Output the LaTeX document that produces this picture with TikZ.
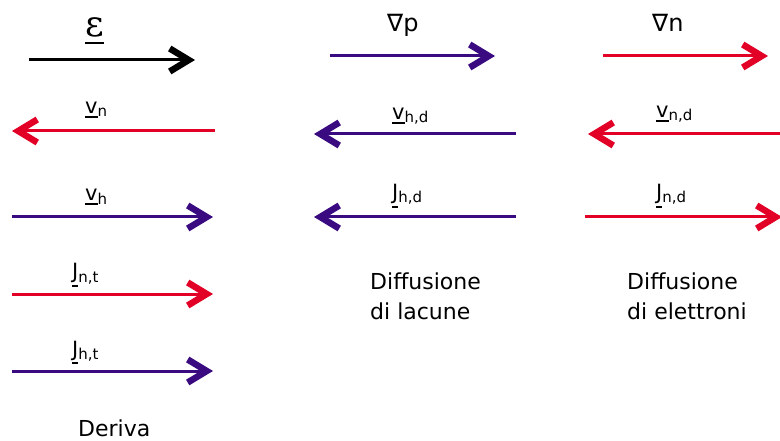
\documentclass[tikz,border=0pt]{standalone}
\usepackage{fontspec}
\setmainfont{DejaVu Sans}
\newfontfamily\serifeps{DejaVu Serif}
\usetikzlibrary{arrows.meta}
\definecolor{ared}{RGB}{226,0,38}
\definecolor{apurple}{RGB}{58,10,128}
\newcommand\ulx[2][4pt]{\setbox0\hbox{#2}\rlap{\rule[\dimexpr-\dp0-#1\relax]{\wd0}{2pt}}\box0}
\newcommand\lbl[2]{\ulx{\fontsize{21}{21}\selectfont #1}\raisebox{-3pt}{\fontsize{15}{15}\selectfont #2}}
\begin{document}
\begin{tikzpicture}[x=1pt,y=-1pt,
  arr/.style={line width=3pt,-{Straight Barb[length=19pt,width=23pt,line width=6.5pt]}},
  lab/.style={anchor=base west,inner sep=0pt},
  capt/.style={anchor=base west,inner sep=0pt,font=\fontsize{22}{22}\selectfont}]
\path[use as bounding box] (0,0) rectangle (780,441);
\clip (0,0) rectangle (780,441);
% endpoints
\coordinate (e0) at (29,60);   \coordinate (e1) at (195,60);
\coordinate (vn0) at (215,131); \coordinate (vn1) at (12,131);
\coordinate (vh0) at (12,217);  \coordinate (vh1) at (213,217);
\coordinate (jn0) at (12,294);  \coordinate (jn1) at (213,294);
\coordinate (jh0) at (12,371);  \coordinate (jh1) at (213,371);
\coordinate (gp0) at (330,56);  \coordinate (gp1) at (495,56);
\coordinate (vhd0) at (516,134); \coordinate (vhd1) at (314,134);
\coordinate (jhd0) at (516,217); \coordinate (jhd1) at (314,217);
\coordinate (gn0) at (603,56);  \coordinate (gn1) at (768,56);
\coordinate (vnd0) at (790,134); \coordinate (vnd1) at (588,134);
\coordinate (jnd0) at (585,217); \coordinate (jnd1) at (782,217);
% arrows
\draw[arr,black] (e0) -- (e1);
\draw[arr,ared] (vn0) -- (vn1);
\draw[arr,apurple] (vh0) -- (vh1);
\draw[arr,ared] (jn0) -- (jn1);
\draw[arr,apurple] (jh0) -- (jh1);
\draw[arr,apurple] (gp0) -- (gp1);
\draw[arr,apurple] (vhd0) -- (vhd1);
\draw[arr,apurple] (jhd0) -- (jhd1);
\draw[arr,ared] (gn0) -- (gn1);
\draw[arr,ared] (vnd0) -- (vnd1);
\draw[arr,ared] (jnd0) -- (jnd1);
% labels
\node[lab] (leps) at (85,37) {\ulx[6pt]{\serifeps\fontsize{36}{36}\selectfont ε}};
\node[lab] (lvn) at (85,114) {\lbl{v}{n}};
\node[lab] (lvh) at (85,201) {\lbl{v}{h}};
\node[lab] (ljnt) at (72,279) {\lbl{J}{n,t}};
\node[lab] (ljht) at (72,356) {\lbl{J}{h,t}};
\node[capt,font=\fontsize{24}{24}\selectfont] (lgp) at (387,32) {∇p};
\node[lab] (lvhd) at (392,120) {\lbl{v}{h,d}};
\node[lab] (ljhd) at (392,200) {\lbl{J}{h,d}};
\node[capt,font=\fontsize{24}{24}\selectfont] (lgn) at (652,32) {∇n};
\node[lab] (lvnd) at (656,118) {\lbl{v}{n,d}};
\node[lab] (ljnd) at (656,200) {\lbl{J}{n,d}};
\node[capt] (dl1) at (370,289) {Diffusione};
\node[capt] (dl2) at (370,319) {di lacune};
\node[capt] (de1) at (627,289) {Diffusione};
\node[capt] (de2) at (627,319) {di elettroni};
\node[capt] (der) at (78,436) {Deriva};
\end{tikzpicture}
\end{document}
